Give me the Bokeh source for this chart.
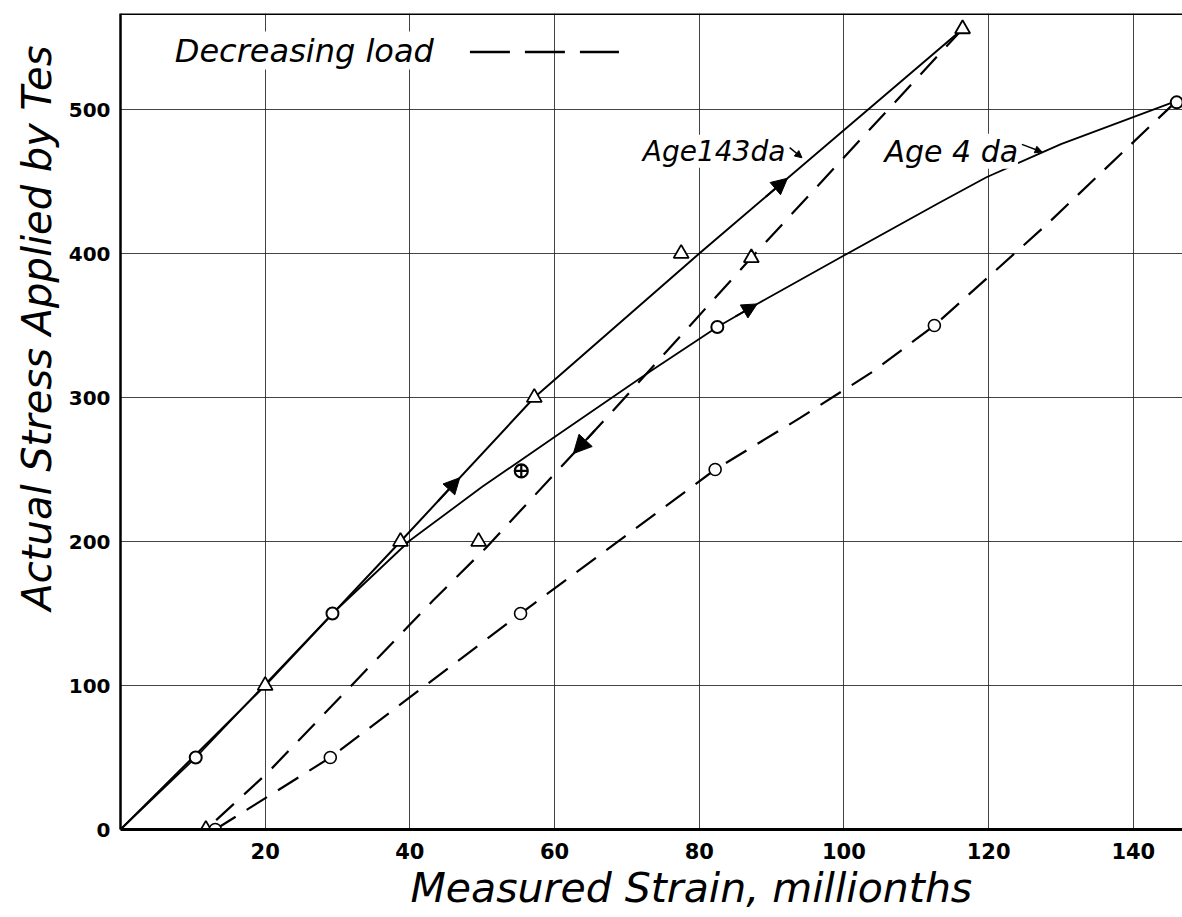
import numpy as np
from bokeh.plotting import figure
from bokeh.models import Label, Span, Arrow, NormalHead, FixedTicker, Range1d, Title
from bokeh.embed import file_html
from bokeh.resources import INLINE

# ---------------- data ----------------
x_ticks = [20, 40, 60, 80, 100, 120, 140]
y_ticks = [0, 100, 200, 300, 400, 500]

# Age 143 days (triangles) - increasing load
a143_up_x = [20, 38.7, 57.2, 77.5, 116.4]
a143_up_y = [100, 200, 300, 400, 556]
# Age 143 days - decreasing load
a143_dn_x = [87.2, 49.5, 11.8]
a143_dn_y = [397, 200, 0]

# Age 4 days (circles) - increasing load
a4_up_x = [10.4, 29.3, 82.5, 146]
a4_up_y = [50, 150, 349, 505]
a4_cross_x = [55.4]
a4_cross_y = [249]
# Age 4 days - decreasing load
a4_dn_x = [112.5, 82.2, 55.3, 29, 13.1]
a4_dn_y = [350, 250, 150, 50, 0]

# hand-drawn curves
c143_up_x = [0, 20, 38.7, 57.2, 80, 116.4]
c143_up_y = [0, 100, 200, 300, 400, 556]
c143_dn_x = [116.4, 87.2, 67.2, 50.6, 43.2, 20.2, 11.8]
c143_dn_y = [556, 397, 286, 196, 159, 38.7, 0]
c4_up_x = [0, 10.4, 29.3, 40, 50, 60.3, 73.2, 82.5, 88, 100, 113, 119.7, 130, 146]
c4_up_y = [0, 50, 150, 200.7, 238, 273.6, 318, 349, 365, 398.6, 434.7, 453, 476, 506]
c4_dn_x = [13.1, 29, 55.3, 82.2, 94, 104, 112.5, 128, 146]
c4_dn_y = [0, 50, 150, 250, 286, 318, 350, 420, 506]

# direction arrows on curves (x of tips)
arr143_up_x = [46.9, 92.2]
arr4_up_x = [88]
arr143_dn_x = [62.6]

FONT = "DejaVu Sans"

p = figure(width=1182, height=917, output_backend="svg", toolbar_location=None,
           x_range=Range1d(0, 146.8), y_range=Range1d(0, 566.7),
           min_border_left=120, min_border_right=0, min_border_top=13,
           min_border_bottom=88)
p.outline_line_color = None
p.background_fill_color = "white"

# axes
for ax in (p.xaxis[0], p.yaxis[0]):
    ax.major_tick_line_color = None
    ax.minor_tick_line_color = None
    ax.major_tick_out = 0
    ax.major_tick_in = 0
    ax.minor_tick_out = 0
    ax.major_label_text_font = FONT
    ax.major_label_text_font_style = "bold"
    ax.major_label_text_color = "black"
    ax.axis_line_color = "black"
p.xaxis.major_label_text_font_size = "21px"
p.yaxis.major_label_text_font_size = "20px"
p.xaxis.ticker = FixedTicker(ticks=x_ticks)
p.yaxis.ticker = FixedTicker(ticks=y_ticks)
p.xaxis.axis_line_width = 3
p.yaxis.axis_line_width = 2.5
p.xaxis.major_label_standoff = 13
p.yaxis.major_label_standoff = 10

p.xgrid.ticker = FixedTicker(ticks=x_ticks)
p.ygrid.ticker = FixedTicker(ticks=y_ticks[1:])
for g in (p.xgrid[0], p.ygrid[0]):
    g.grid_line_color = "#222222"
    g.grid_line_width = 1
    g.grid_line_alpha = 0.85

# top frame line
p.add_layout(Span(location=566.7, dimension="width", line_color="black", line_width=3))

# curves
p.line(c143_up_x, c143_up_y, line_color="black", line_width=2)
p.line(c4_up_x, c4_up_y, line_color="black", line_width=1.8)
p.line(c143_dn_x, c143_dn_y, line_color="black", line_width=2.2, line_dash="24 14")
p.line(c4_dn_x, c4_dn_y, line_color="black", line_width=2.2, line_dash="24 13")

# markers
p.scatter(a143_up_x, a143_up_y, marker="triangle", size=15, fill_color="white",
          line_color="black", line_width=1.8)
p.scatter(a143_dn_x, a143_dn_y, marker="triangle", size=15, fill_color="white",
          line_color="black", line_width=1.8)
p.scatter(a4_up_x, a4_up_y, marker="circle", size=12, fill_color="white",
          line_color="black", line_width=2)
p.scatter(a4_cross_x, a4_cross_y, marker="circle_cross", size=13, fill_color="white",
          line_color="black", line_width=2.2)
p.scatter(a4_dn_x, a4_dn_y, marker="circle", size=12, fill_color="white",
          line_color="black", line_width=1.6)


def interp_curve(x, cx, cy):
    cx = np.asarray(cx, float)
    cy = np.asarray(cy, float)
    if cx[0] > cx[-1]:
        cx, cy = cx[::-1], cy[::-1]
    return float(np.interp(x, cx, cy))


def add_arrows(xs, cx, cy, forward=True, size=16):
    for xt in xs:
        yt = interp_curve(xt, cx, cy)
        xs0 = xt - 3 if forward else xt + 3
        ys0 = interp_curve(xs0, cx, cy)
        p.add_layout(Arrow(end=NormalHead(size=size, fill_color="black", line_color="black"),
                           x_start=xs0, y_start=ys0, x_end=xt, y_end=yt,
                           line_color="black", line_width=2))


add_arrows(arr143_up_x, c143_up_x, c143_up_y, True)
add_arrows(arr4_up_x, c4_up_x, c4_up_y, True, 15)
add_arrows(arr143_dn_x, c143_dn_x, c143_dn_y, False, 18)

# texts inside the plot
p.add_layout(Label(x=7.5, y=541, text="Decreasing load", text_font=FONT,
                   text_font_style="italic", text_font_size="32px", text_baseline="middle",
                   text_color="black", background_fill_color="white"))
legend_dash_x = [48.3, 68.9]
legend_dash_y = [540, 540]
p.line(legend_dash_x, legend_dash_y, line_color="black", line_width=2.5, line_dash="40 15")

p.add_layout(Label(x=72.2, y=471, text="Age143da", text_font=FONT,
                   text_font_style="italic", text_font_size="28px", text_baseline="middle",
                   text_color="black", background_fill_color="white"))
p.add_layout(Label(x=105.6, y=471, text="Age 4 da", text_font=FONT,
                   text_font_style="italic", text_font_size="30px", text_baseline="middle",
                   text_color="black", background_fill_color="white"))

# small pointers from the labels to the curves
ptr_x0 = [92.5, 124.6]
ptr_y0 = [473.6, 475.8]
ptr_x1 = [94.2, 127.4]
ptr_y1 = [466.5, 470.5]
for i in range(2):
    p.add_layout(Arrow(end=NormalHead(size=7, fill_color="black", line_color="black"),
                       x_start=ptr_x0[i], y_start=ptr_y0[i], x_end=ptr_x1[i], y_end=ptr_y1[i],
                       line_color="black", line_width=1.5))

# axis titles (as offset titles so they sit where the original lettering is)
p.add_layout(Title(text="Measured Strain, millionths", text_font=FONT,
                   text_font_style="italic", text_font_size="41px", text_color="black",
                   align="left", offset=290, standoff=0), "below")
p.add_layout(Title(text="Actual Stress Applied by Tes", text_font=FONT,
                   text_font_style="italic", text_font_size="40px", text_color="black",
                   align="left", offset=219, standoff=12), "left")

open("out.html", "w").write(file_html(p, INLINE))
